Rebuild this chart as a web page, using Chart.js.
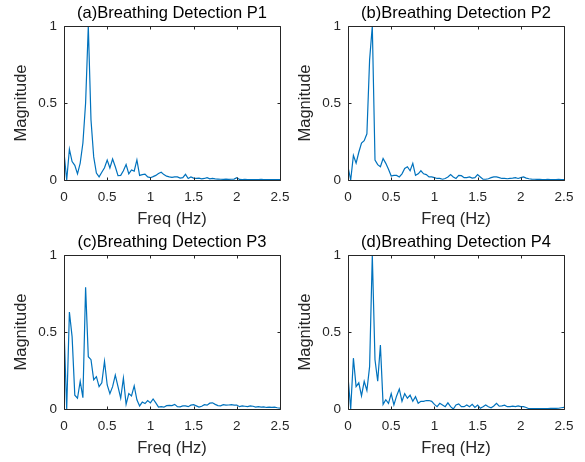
<!DOCTYPE html>
<html>
<head>
<meta charset="utf-8">
<script src="https://cdn.jsdelivr.net/npm/chart.js@4.4.1/dist/chart.umd.min.js"></script>
<style>
    body { margin: 0; background: #fff; width: 585px; height: 462px; position: relative; overflow: hidden; }
    canvas { position: absolute; }
</style>
</head>
<body>
<canvas id="chartP1" width="292" height="231" style="left:0;top:0"></canvas>
<canvas id="chartP2" width="292" height="231" style="left:284px;top:0"></canvas>
<canvas id="chartP3" width="292" height="231" style="left:0;top:229px"></canvas>
<canvas id="chartP4" width="292" height="231" style="left:284px;top:229px"></canvas>
<script>
// FFT bins (Hz), 1/32 Hz apart from 0 to 2.5
const freqHz = Array.from({ length: 81 }, (_, i) => i / 32);
const xTicks = [0, 0.5, 1, 1.5, 2, 2.5];
const yTicks = [0, 0.5, 1];

const titles = [
    '(a)Breathing Detection P1',
    '(b)Breathing Detection P2',
    '(c)Breathing Detection P3',
    '(d)Breathing Detection P4'
];

const magnitudeP1 = [
    0.18, 0.0, 0.2, 0.12, 0.095, 0.04, 0.11, 0.24, 0.5, 1.0,
    0.39, 0.15, 0.045, 0.02, 0.05, 0.08, 0.13, 0.078, 0.136, 0.086,
    0.028, 0.03, 0.06, 0.1, 0.04, 0.065, 0.058, 0.13, 0.03, 0.035,
    0.038, 0.02, 0.015, 0.022, 0.03, 0.042, 0.05, 0.035, 0.025, 0.02,
    0.017, 0.02, 0.02, 0.012, 0.015, 0.037, 0.01, 0.02, 0.012, 0.01,
    0.012, 0.008, 0.01, 0.015, 0.008, 0.01, 0.007, 0.006, 0.005, 0.004,
    0.006, 0.004, 0.005, 0.006, 0.015, 0.004, 0.003, 0.004, 0.003, 0.003,
    0.002, 0.003, 0.002, 0.004, 0.002, 0.002, 0.003, 0.002, 0.002, 0.002,
    0.002
];

const magnitudeP2 = [
    0.086, 0.0, 0.16, 0.11, 0.18, 0.24, 0.255, 0.30, 0.78, 1.0,
    0.13, 0.10, 0.086, 0.14, 0.108, 0.07, 0.026, 0.03, 0.03, 0.02,
    0.04, 0.075, 0.086, 0.06, 0.108, 0.03, 0.04, 0.06, 0.04, 0.035,
    0.02, 0.02, 0.015, 0.01, 0.01, 0.005, 0.01, 0.02, 0.035, 0.02,
    0.01, 0.03, 0.028, 0.015, 0.015, 0.02, 0.012, 0.015, 0.035, 0.02,
    0.005, 0.005, 0.008, 0.015, 0.02, 0.02, 0.015, 0.01, 0.01, 0.008,
    0.01, 0.012, 0.015, 0.01, 0.015, 0.02, 0.012, 0.008, 0.006, 0.005,
    0.004, 0.004, 0.003, 0.003, 0.004, 0.003, 0.003, 0.003, 0.004, 0.003,
    0.003
];

const magnitudeP3 = [
    0.53, 0.0, 0.63, 0.47, 0.09, 0.07, 0.18, 0.073, 0.79, 0.34,
    0.32, 0.19, 0.21, 0.145, 0.17, 0.31, 0.156, 0.1, 0.145, 0.22,
    0.145, 0.07, 0.2, 0.03, 0.1, 0.085, 0.15, 0.06, 0.02, 0.045,
    0.035, 0.055, 0.04, 0.065, 0.04, 0.012, 0.015, 0.012, 0.022, 0.024,
    0.022, 0.03, 0.015, 0.014, 0.02, 0.02, 0.015, 0.025, 0.028, 0.02,
    0.012, 0.018, 0.028, 0.025, 0.038, 0.04, 0.03, 0.022, 0.02, 0.028,
    0.025, 0.026, 0.028, 0.025, 0.026, 0.015, 0.02, 0.018, 0.015, 0.02,
    0.018, 0.012, 0.015, 0.012, 0.014, 0.01, 0.012, 0.01, 0.012, 0.008,
    0.006
];

const magnitudeP4 = [
    0.21, 0.0, 0.33, 0.145, 0.17, 0.085, 0.18, 0.12, 0.275, 1.0,
    0.32, 0.18, 0.415, 0.03, 0.06, 0.037, 0.1, 0.026, 0.085, 0.13,
    0.05, 0.1, 0.07, 0.09, 0.05, 0.08, 0.037, 0.05, 0.05, 0.055,
    0.055, 0.05, 0.03, 0.015, 0.037, 0.026, 0.015, 0.04, 0.015, 0.0,
    0.026, 0.033, 0.015, 0.015, 0.026, 0.015, 0.03, 0.01, 0.026, 0.005,
    0.015, 0.026, 0.015, 0.008, 0.02, 0.037, 0.018, 0.02, 0.025, 0.015,
    0.015, 0.018, 0.015, 0.02, 0.015, 0.015, 0.01, 0.002, 0.003, 0.002,
    0.002, 0.003, 0.002, 0.003, 0.003, 0.004, 0.004, 0.004, 0.005, 0.008,
    0.01
];

const lineColor = '#0072BD';
const axisColor = '#262626';
const fontFamily = '"Liberation Sans", Arial, sans-serif';

// MATLAB style box with ticks pointing inward on all four sides
const matlabBox = {
    id: 'matlabBox',
    afterDatasetsDraw(chart) {
        const { ctx, chartArea: a, scales: { x, y } } = chart;
        const L = Math.round(a.left) + 0.5, R = Math.round(a.right) + 0.5;
        const T = Math.round(a.top) + 0.5, B = Math.round(a.bottom) + 0.5;
        ctx.save();
        ctx.strokeStyle = axisColor;
        ctx.lineWidth = 1;
        ctx.beginPath();
        ctx.rect(L, T, R - L, B - T);
        xTicks.forEach(v => {
            const px = Math.round(x.getPixelForValue(v)) + 0.5;
            ctx.moveTo(px, B); ctx.lineTo(px, B - 3);
            ctx.moveTo(px, T); ctx.lineTo(px, T + 3);
        });
        yTicks.forEach(v => {
            const py = Math.round(y.getPixelForValue(v)) + 0.5;
            ctx.moveTo(L, py); ctx.lineTo(L + 3, py);
            ctx.moveTo(R, py); ctx.lineTo(R - 3, py);
        });
        ctx.stroke();
        ctx.restore();
    }
};

function drawPanel(id, title, values) {
    const points = freqHz.map((f, i) => ({ x: f, y: values[i] }));
    new Chart(document.getElementById(id), {
        type: 'line',
        data: {
            datasets: [{
                data: points,
                borderColor: lineColor,
                borderWidth: 1.2,
                pointRadius: 0,
                tension: 0,
                fill: false
            }]
        },
        options: {
            responsive: false,
            animation: false,
            layout: { padding: { left: 0, right: 12, top: 0, bottom: 0 } },
            plugins: {
                legend: { display: false },
                tooltip: { enabled: false },
                title: {
                    display: true,
                    text: title,
                    fullSize: false,
                    color: '#000',
                    font: { family: fontFamily, size: 16.5, weight: 'normal', lineHeight: 1.2 },
                    padding: { top: 4, bottom: 2.2 }
                }
            },
            scales: {
                x: {
                    type: 'linear',
                    min: 0,
                    max: 2.5,
                    afterBuildTicks: s => { s.ticks = xTicks.map(v => ({ value: v })); },
                    afterFit: s => { s.height = 51; s.paddingLeft = 0; s.paddingRight = 0; },
                    grid: { display: false, drawTicks: false },
                    border: { display: false },
                    ticks: {
                        color: axisColor,
                        padding: 9,
                        maxRotation: 0,
                        font: { family: fontFamily, size: 13.5 },
                        callback: v => String(v)
                    },
                    title: {
                        display: true,
                        text: 'Freq (Hz)',
                        color: axisColor,
                        font: { family: fontFamily, size: 16.5, lineHeight: 1.2 },
                        padding: { top: 0, bottom: 2.1 }
                    }
                },
                y: {
                    min: 0,
                    max: 1,
                    afterBuildTicks: s => { s.ticks = yTicks.map(v => ({ value: v })); },
                    afterFit: s => { s.width = 64; s.paddingTop = 0; s.paddingBottom = 0; },
                    grid: { display: false, drawTicks: false },
                    border: { display: false },
                    ticks: {
                        color: axisColor,
                        padding: 7,
                        font: { family: fontFamily, size: 13.5 },
                        callback: v => String(v)
                    },
                    title: {
                        display: true,
                        text: 'Magnitude',
                        color: axisColor,
                        font: { family: fontFamily, size: 16.5, lineHeight: 1.2 },
                        padding: { top: 12, bottom: 0 }
                    }
                }
            }
        },
        plugins: [matlabBox]
    });
}

drawPanel('chartP1', titles[0], magnitudeP1);
drawPanel('chartP2', titles[1], magnitudeP2);
drawPanel('chartP3', titles[2], magnitudeP3);
drawPanel('chartP4', titles[3], magnitudeP4);
</script>
</body>
</html>
